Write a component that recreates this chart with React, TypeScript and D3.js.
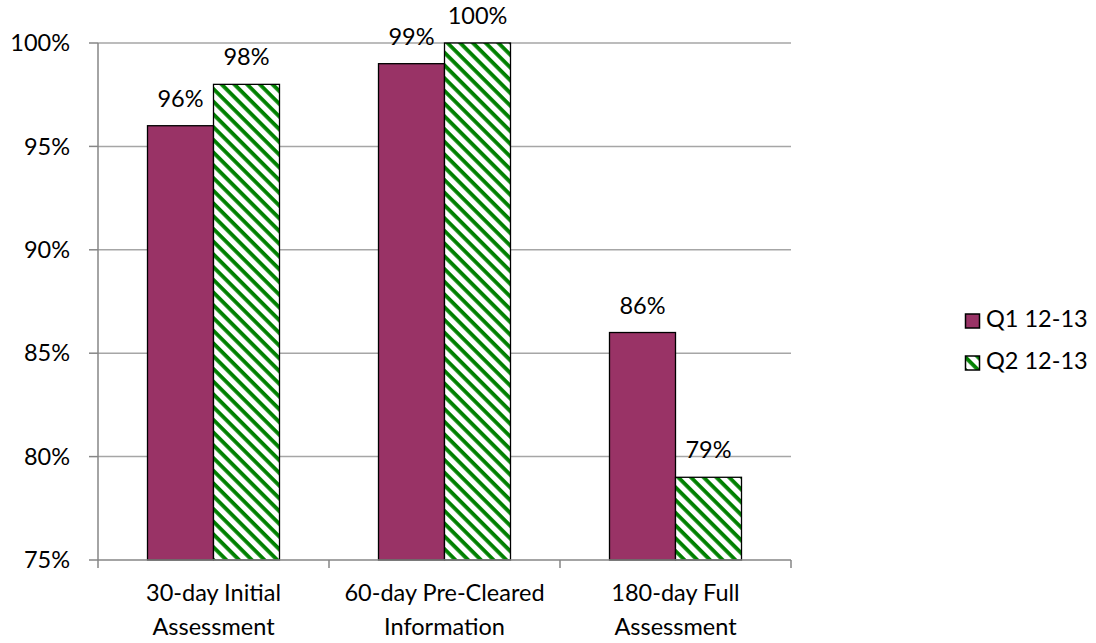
import React from "react";
import * as d3 from "d3";

const categories = ["30-day Initial|Assessment", "60-day Pre-Cleared|Information", "180-day Full|Assessment"];
const seriesNames = ["Q1 12-13", "Q2 12-13"];
const q1Values = [0.96, 0.99, 0.86];
const q2Values = [0.98, 1.0, 0.79];
const yTicks = [0.75, 0.8, 0.85, 0.9, 0.95, 1.0];

const W = 1096, H = 643;
const plot = { left: 98, right: 791, top: 43, bottom: 560 };
const FONT = "Lato, 'Open Sans', sans-serif";
const FS = 23.5;

export default function App() {
  const x = d3.scaleBand<string>().domain(categories).range([plot.left, plot.right]).paddingInner(0).paddingOuter(0);
  const inner = d3.scaleBand<number>().domain([0, 1]).range([0, x.bandwidth()]).paddingOuter(0.75).paddingInner(0);
  const y = d3.scaleLinear().domain([0.75, 1.0]).range([plot.bottom, plot.top]);
  const fmt = d3.format(".0%");
  const series = [q1Values, q2Values];
  const fills = ["#993366", "url(#hatch)"];

  return (
    <svg width={W} height={H} style={{ position: "absolute", left: 0, top: 0, background: "#fff" }}>
      <defs>
        <pattern id="hatch" patternUnits="userSpaceOnUse" width="9" height="9" patternTransform="rotate(45)">
          <rect width="9" height="9" fill="#fff" />
          <rect x="0" y="0" width="9" height="3.8" fill="#008000" />
        </pattern>
      </defs>
      {yTicks.map((t) => (
        <g key={t}>
          {t !== 0.75 && (
            <line x1={plot.left} x2={plot.right} y1={y(t)} y2={y(t)} stroke="#a6a6a6" strokeWidth={1.5} />
          )}
          <line x1={plot.left - 9} x2={plot.left} y1={y(t)} y2={y(t)} stroke="#868686" strokeWidth={1.5} />
          <text x={70} y={y(t)} dy="0.35em" textAnchor="end" fontFamily={FONT} fontSize={FS} fill="#000">
            {fmt(t)}
          </text>
        </g>
      ))}
      {categories.map((c) => (
        <g key={c}>
          {series.map((vals, si) => {
            const v = vals[categories.indexOf(c)];
            const bx = (x(c) as number) + (inner(si) as number);
            return (
              <g key={si}>
                <rect x={bx} y={y(v)} width={inner.bandwidth()} height={plot.bottom - y(v)} fill={fills[si]} stroke="#000" strokeWidth={1.3} />
                <text x={bx + inner.bandwidth() / 2} y={y(v) - 19} textAnchor="middle" fontFamily={FONT} fontSize={FS} fill="#000">
                  {fmt(v)}
                </text>
              </g>
            );
          })}
          {c.split("|").map((line, li) => (
            <text key={li} x={(x(c) as number) + x.bandwidth() / 2} y={601 + li * 34} textAnchor="middle" fontFamily={FONT} fontSize={FS} fill="#000">
              {line}
            </text>
          ))}
        </g>
      ))}
      <line x1={plot.left} x2={plot.left} y1={plot.top} y2={plot.bottom} stroke="#868686" strokeWidth={1.5} />
      <line x1={plot.left} x2={plot.right} y1={plot.bottom} y2={plot.bottom} stroke="#868686" strokeWidth={1.5} />
      {[...categories.map((c) => x(c) as number), plot.right].map((tx, i) => (
        <line key={i} x1={tx} x2={tx} y1={plot.bottom} y2={plot.bottom + 8} stroke="#868686" strokeWidth={1.5} />
      ))}
      {seriesNames.map((s, i) => (
        <g key={s}>
          <rect x={965.5} y={314 + i * 42} width={14} height={14} fill={fills[i]} stroke="#000" strokeWidth={1.5} />
          <text x={986} y={327 + i * 42} fontFamily={FONT} fontSize={FS} fill="#000">{s}</text>
        </g>
      ))}
    </svg>
  );
}
